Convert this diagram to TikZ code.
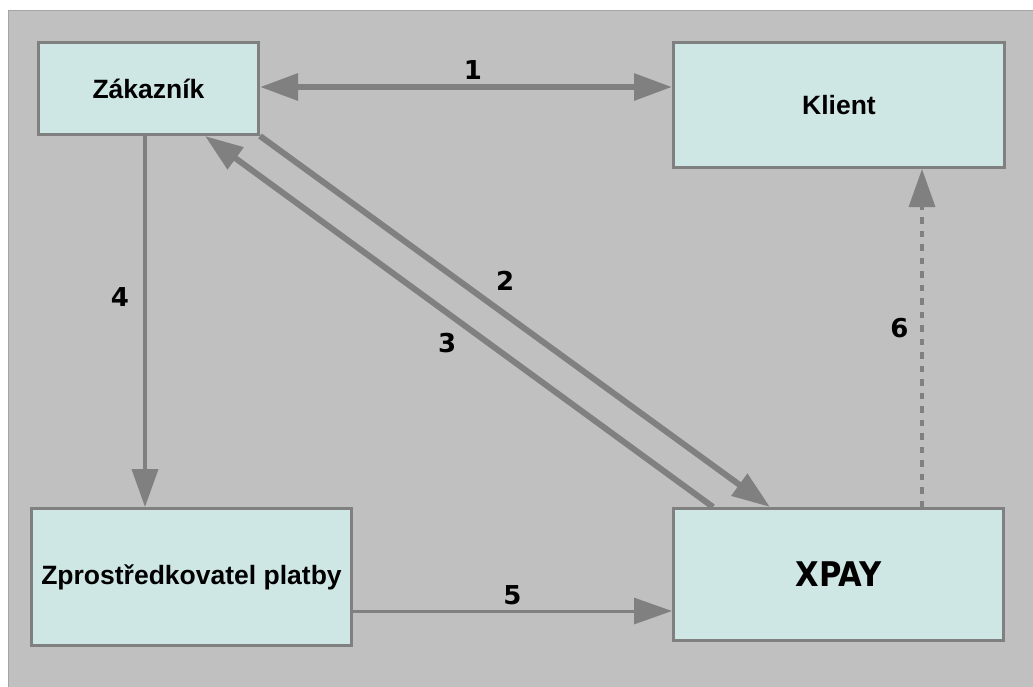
\documentclass[tikz,border=0pt]{standalone}
\usepackage{fontspec}
\setmainfont{Liberation Sans}
\newfontfamily\numfont{DejaVu Sans}
\newfontfamily\xpayfont{DejaVu Sans Condensed}
\usetikzlibrary{arrows.meta, positioning}
\definecolor{bggray}{HTML}{C0C0C0}
\definecolor{framegray}{HTML}{A4A4A4}
\definecolor{linegray}{HTML}{808080}
\definecolor{boxfill}{HTML}{CFE7E4}

\begin{document}
\begin{tikzpicture}[x=1pt, y=-1pt]
  \tikzset{box/.style={draw=linegray, line width=3pt, fill=boxfill, inner sep=0pt, outer sep=1.5pt, font=\fontsize{26.5}{30}\selectfont\bfseries},
    flow/.style={draw=linegray, -{Triangle[length=38pt, width=26pt]}},
    num/.style={inner sep=2pt, font=\numfont\fontsize{26}{30}\selectfont\bfseries}}
  \useasboundingbox (0,0) rectangle (1033,686);
  \draw[framegray, fill=bggray, line width=1pt] (8.5,10.5) rectangle (1045,700);
  % boxes
  \node[box, minimum width=220pt, minimum height=92pt] (zak) at (148.5,88.5) {Zákazník};
  \node[box, minimum width=331pt, minimum height=125pt] (kli) at (839,105) {Klient};
  \node[box, minimum width=320pt, minimum height=137pt] (zpr) at (191.5,577) {Zprostředkovatel platby};
  \node[box, minimum width=330pt, minimum height=132pt, font=\xpayfont\fontsize{34}{38}\selectfont\bfseries] (xpay) at (838.5,574.5) {XPAY};
  % connectors
  \draw[flow, {Triangle[length=38pt, width=26pt]}-{Triangle[length=38pt, width=26pt]}, line width=6pt] (zak.east |- 0,87) -- (kli.west |- 0,87) node[num, pos=0.517, above=3pt] (n1) {1};
  \draw[flow, line width=6pt] (zak.south east) -- ([xshift=-68.5pt]xpay.north) node[num, pos=0.443, above right=7.5pt] (n2) {2};
  \draw[flow, line width=6pt] ([xshift=-125.5pt]xpay.north) -- ([xshift=56.5pt]zak.south) node[num, pos=0.49, below left=4pt] (n3) {3};
  \draw[flow, line width=4pt] ([xshift=-3.5pt]zak.south) -- ([xshift=-3.5pt]zak.south |- zpr.north) node[num, pos=0.434, left=12pt] (n4) {4};
  \draw[flow, line width=3pt] ([yshift=-34pt]zpr.east) -- ([yshift=-34pt]zpr.east -| xpay.west) node[num, midway, above=3pt] (n5) {5};
  \draw[flow, line width=3.3pt, dash pattern=on 6.5pt off 7pt] ([xshift=83.5pt]xpay.north) -- ([xshift=83.5pt]xpay.north |- kli.south) node[num, pos=0.53, left=10pt] (n6) {6};
\end{tikzpicture}
\end{document}
